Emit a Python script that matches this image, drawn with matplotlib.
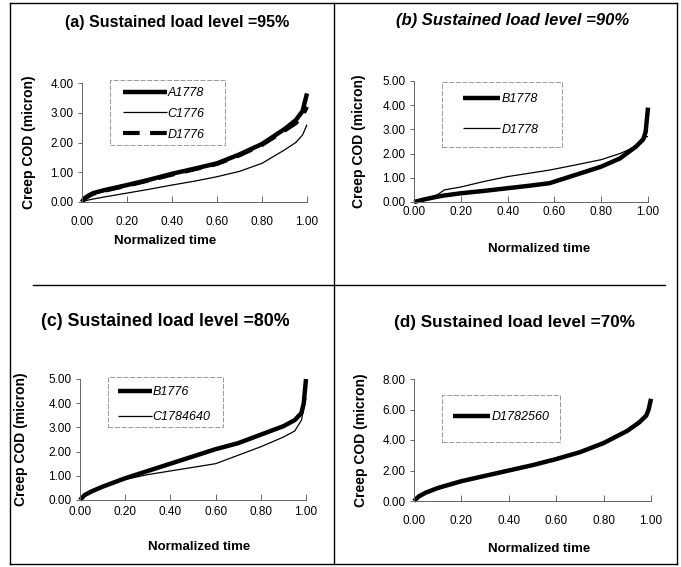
import numpy as np
import matplotlib.pyplot as plt
from matplotlib.lines import Line2D
from matplotlib.patches import Rectangle

plt.rcParams['font.family'] = ['Liberation Sans', 'DejaVu Sans']

# ---- datos ----
# (a) 95%
a_x = [0.0, 0.01, 0.03, 0.05, 0.1, 0.2, 0.3, 0.4, 0.5, 0.6, 0.7, 0.8, 0.9, 0.95, 0.98, 1.0]
a_A1778 = [0.0, 0.12, 0.22, 0.3, 0.4, 0.57, 0.75, 0.95, 1.12, 1.3, 1.6, 1.95, 2.45, 2.75, 3.05, 3.65]
a_D1776 = [0.0, 0.1, 0.2, 0.28, 0.38, 0.55, 0.73, 0.92, 1.1, 1.28, 1.57, 1.92, 2.4, 2.65, 2.9, 3.2]
a_C1776 = [0.0, 0.03, 0.07, 0.1, 0.17, 0.3, 0.43, 0.57, 0.7, 0.85, 1.03, 1.3, 1.75, 2.0, 2.25, 2.6]

# (b) 90%
b_x = [0.0, 0.05, 0.1, 0.13, 0.2, 0.3, 0.4, 0.5, 0.58, 0.7, 0.8, 0.88, 0.95, 0.98, 0.99, 1.0]
b_B1778 = [0.0, 0.12, 0.22, 0.27, 0.36, 0.46, 0.57, 0.68, 0.78, 1.15, 1.46, 1.8, 2.3, 2.6, 2.9, 3.9]
b_D1778 = [0.0, 0.15, 0.3, 0.5, 0.62, 0.85, 1.05, 1.2, 1.32, 1.55, 1.75, 2.0, 2.3, 2.5, 2.7, 2.7]

# (c) 80%
c_x = [0.0, 0.02, 0.05, 0.1, 0.2, 0.3, 0.4, 0.5, 0.6, 0.7, 0.8, 0.9, 0.95, 0.98, 0.99, 1.0]
c_B1776 = [0.0, 0.2, 0.35, 0.55, 0.9, 1.2, 1.5, 1.8, 2.1, 2.35, 2.7, 3.05, 3.3, 3.6, 4.0, 5.0]
c_C1784640 = [0.0, 0.2, 0.35, 0.55, 0.85, 1.05, 1.2, 1.35, 1.5, 1.85, 2.2, 2.6, 2.85, 3.3, 3.8, 4.2]

# (d) 70%
d_x = [0.0, 0.02, 0.05, 0.1, 0.2, 0.3, 0.4, 0.5, 0.6, 0.7, 0.8, 0.9, 0.95, 0.98, 0.99, 1.0]
d_D1782560 = [0.0, 0.3, 0.55, 0.85, 1.3, 1.65, 2.0, 2.35, 2.75, 3.2, 3.8, 4.6, 5.15, 5.6, 6.0, 6.7]

titles = ['(a) Sustained load level =95%', '(b) Sustained load level =90%',
          '(c) Sustained load level =80%', '(d) Sustained load level =70%']
x_ticks = [0.0, 0.2, 0.4, 0.6, 0.8, 1.0]

fig = plt.figure(figsize=(6.81, 5.67), dpi=100)
W, H = 681.0, 567.0

def px_axes(l, t, r, b):
    return fig.add_axes([l / W, 1 - b / H, (r - l) / W, (b - t) / H])

ax_a = px_axes(82, 83, 307, 202)
ax_b = px_axes(414, 81, 648, 202)
ax_c = px_axes(80, 379, 306, 500)
ax_d = px_axes(414, 379, 651, 501)

ax_a.plot(a_x, a_A1778, color='black', lw=3.2, label='A1778')
ax_a.plot(a_x, a_C1776, color='black', lw=0.9, label='C1776')
ax_a.plot(a_x, a_D1776, color='black', lw=3.0, dashes=(4, 2.5), label='D1776')

ax_b.plot(b_x, b_B1778, color='black', lw=3.2, label='B1778')
ax_b.plot(b_x, b_D1778, color='black', lw=0.9, label='D1778')

ax_c.plot(c_x, c_B1776, color='black', lw=3.2, label='B1776')
ax_c.plot(c_x, c_C1784640, color='black', lw=0.9, label='C1784640')

ax_d.plot(d_x, d_D1782560, color='black', lw=3.2, label='D1782560')

axes = [ax_a, ax_b, ax_c, ax_d]
ylims = [(0, 4), (0, 5), (0, 5), (0, 8)]
ysteps = [1, 1, 1, 2]
xpads = [10, 3, 4.5, 10]
xlab_pos = [(0.369, -0.275), (0.534, -0.34), (0.527, -0.34), (0.53, -0.345)]
ylab_x = [-0.204, -0.205, -0.23, -0.194]

for i, ax in enumerate(axes):
    yl = ylims[i]
    ax.set_xlim(0, 1)
    ax.set_ylim(*yl)
    ax.set_xticks(x_ticks)
    ax.set_yticks(np.arange(yl[0], yl[1] + 0.01, ysteps[i]))
    ax.xaxis.set_major_formatter(plt.FormatStrFormatter('%.2f'))
    ax.yaxis.set_major_formatter(plt.FormatStrFormatter('%.2f'))
    for s in ['top', 'right']:
        ax.spines[s].set_visible(False)
    for s in ['left', 'bottom']:
        ax.spines[s].set_color('#666666')
        ax.spines[s].set_linewidth(0.7)
    ax.tick_params(axis='x', direction='in', length=4, width=0.7, color='#666666',
                   labelsize=8.5, pad=xpads[i])
    ax.tick_params(axis='y', direction='out', length=3, width=0.7, color='#666666',
                   labelsize=8.5, pad=3)
    ax.set_xlabel('Normalized time', fontsize=9.5, fontweight='bold')
    ax.set_ylabel('Creep COD (micron)', fontsize=10, fontweight='bold')
    ax.xaxis.set_label_coords(*xlab_pos[i])
    ax.yaxis.set_label_coords(ylab_x[i], 0.5)
    for line in ax.get_lines():
        line.set_clip_on(False)
        line.set_solid_capstyle('butt')

# titulos
fig.text(177 / W, 1 - 22 / H, titles[0], ha='center', va='center', fontsize=11.5, fontweight='bold')
fig.text(513 / W, 1 - 20 / H, titles[1], ha='center', va='center', fontsize=12,
         fontweight='bold', fontstyle='italic')
fig.text(165 / W, 1 - 321 / H, titles[2], ha='center', va='center', fontsize=12.8, fontweight='bold')
fig.text(514 / W, 1 - 322 / H, titles[3], ha='center', va='center', fontsize=12.3, fontweight='bold')

# leyendas: marco propio + entradas sin marco
def leg(ax, box, hx, ty, hlen, spacing):
    l, t, r, b = box
    ax.add_patch(Rectangle((l / W, 1 - b / H), (r - l) / W, (b - t) / H,
                           transform=fig.transFigure, facecolor='white', edgecolor='#888888',
                           lw=0.6, ls=(0, (6, 2)), clip_on=False, zorder=4))
    lg = ax.legend(loc='upper left', bbox_to_anchor=(hx / W, 1 - ty / H),
                   bbox_transform=fig.transFigure, frameon=False,
                   prop={'style': 'italic', 'size': 9}, handlelength=hlen,
                   handletextpad=0.05, labelspacing=spacing, borderpad=0, borderaxespad=0)
    lg.set_zorder(5)
    return lg

leg(ax_a, (110, 80, 225, 145), 123, 87, 3.5, 0.7)
leg(ax_b, (442, 82, 562, 147), 463, 93, 3.0, 1.5)
leg(ax_c, (108, 377, 223, 427), 118, 386, 2.7, 1.05)
leg(ax_d, (442, 395, 560, 442), 453, 411, 3.0, 0.6)

# marco y divisiones
def fline(x0, y0, x1, y1, lw=1.0):
    fig.add_artist(Line2D([x0 / W, x1 / W], [1 - y0 / H, 1 - y1 / H], color='black', lw=lw))

fline(10, 3, 677, 3)
fline(10, 564, 677, 564)
fline(10, 3, 10, 564)
fline(677, 3, 677, 564)
fline(334, 3, 334, 564)
fline(33, 285, 665, 285)

fig.savefig('out.png', dpi=100)
